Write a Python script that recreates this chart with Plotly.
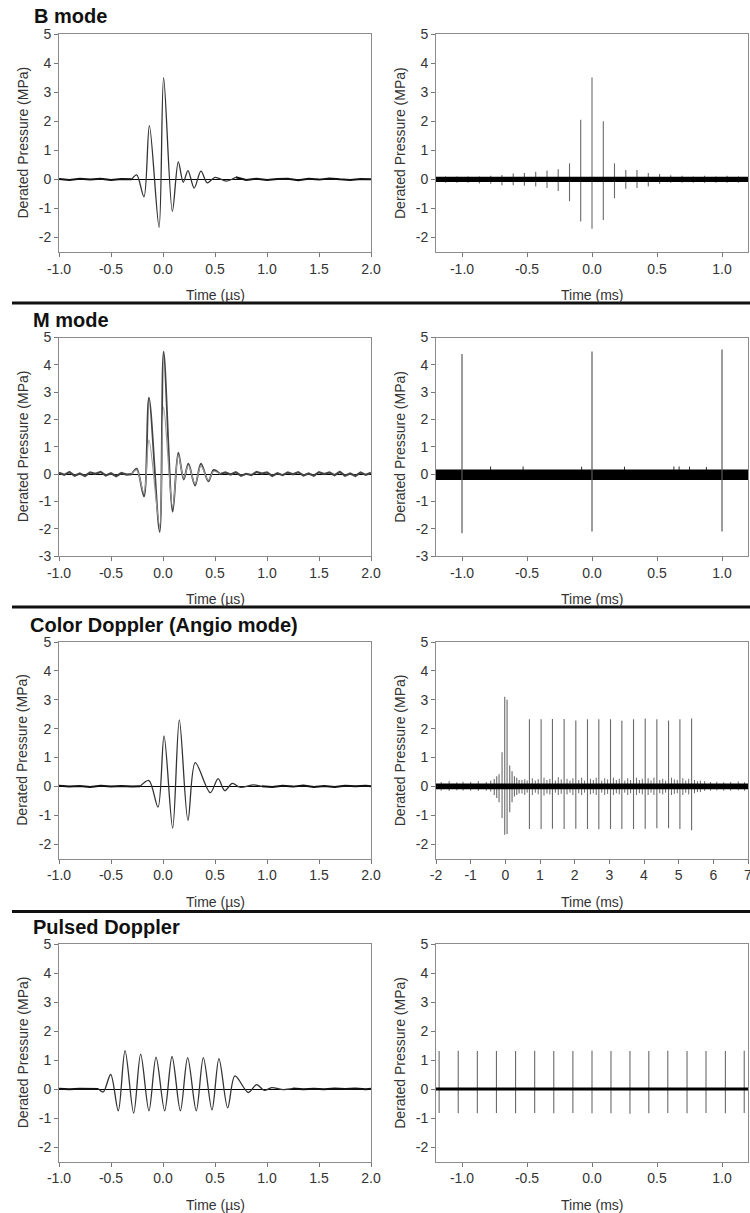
import plotly.graph_objects as go

W, H = 750, 1213
FONT = "Liberation Sans, Arial, sans-serif"

# ---------------- B mode ----------------
bm_pre_t = [-1.0, -0.9, -0.8, -0.7, -0.6, -0.5, -0.4, -0.3]
bm_pre_p = [0.01, -0.02, 0.02, -0.01, 0.02, -0.02, 0.01, 0.0]
bm_t = [-0.3, -0.253, -0.183, -0.131, -0.038, 0.006, 0.09, 0.147, 0.195, 0.24, 0.30, 0.365, 0.426, 0.5, 0.61, 0.7]
bm_p = [0.0, 0.15, -0.6, 1.85, -1.65, 3.5, -1.1, 0.6, -0.1, 0.3, -0.3, 0.28, -0.12, 0.07, -0.06, 0.07]
bm_post_t = [0.7, 0.8, 0.9, 1.0, 1.1, 1.2, 1.3, 1.4, 1.5, 1.6, 1.7, 1.8, 1.9, 2.0]
bm_post_p = [0.07, -0.02, 0.02, -0.02, 0.01, 0.02, -0.03, 0.02, -0.01, 0.03, 0.0, -0.02, 0.01, 0.0]

bmr_t = [-1.126, -1.039, -0.953, -0.866, -0.779, -0.693, -0.606, -0.52, -0.433, -0.346, -0.26, -0.173, -0.087,
         0.0, 0.087, 0.173, 0.26, 0.346, 0.433, 0.52, 0.606, 0.693, 0.779, 0.866, 0.953, 1.039, 1.126]
bmr_max = [0.1, 0.1, 0.1, 0.1, 0.12, 0.15, 0.2, 0.22, 0.26, 0.3, 0.35, 0.55, 2.05,
           3.5, 2.0, 0.55, 0.32, 0.32, 0.22, 0.18, 0.14, 0.12, 0.1, 0.12, 0.1, 0.12, 0.1]
bmr_min = [-0.12, -0.12, -0.12, -0.14, -0.15, -0.2, -0.2, -0.22, -0.25, -0.3, -0.4, -0.75, -1.45,
           -1.7, -1.4, -0.65, -0.32, -0.3, -0.25, -0.15, -0.12, -0.12, -0.12, -0.12, -0.12, -0.12, -0.12]
bmr_band = [-0.09, 0.09]

# ---------------- M mode ----------------
mm_pre_t = [-1.0, -0.95, -0.9, -0.85, -0.8, -0.75, -0.7, -0.65, -0.6, -0.55, -0.5, -0.45, -0.4, -0.35, -0.3]
mm_pre_p = [0.05, -0.03, 0.07, -0.06, 0.02, -0.07, 0.06, 0.01, 0.08, -0.05, 0.03, -0.08, 0.04, -0.02, 0.0]
mm_t = [-0.3, -0.253, -0.183, -0.135, -0.032, 0.006, 0.093, 0.147, 0.199, 0.244, 0.308, 0.365, 0.436, 0.487, 0.55]
mm_dark_p = [0.0, 0.2, -0.82, 2.8, -2.12, 4.48, -1.38, 0.78, -0.2, 0.38, -0.42, 0.38, -0.27, 0.15, 0.0]
mm_light_p = [0.0, 0.15, -0.7, 1.25, -1.9, 2.45, -1.22, 0.7, -0.15, 0.32, -0.35, 0.3, -0.22, 0.1, 0.0]
mm_post_t = [0.55, 0.6, 0.65, 0.7, 0.75, 0.8, 0.85, 0.9, 0.95, 1.0, 1.05, 1.1, 1.15, 1.2, 1.25, 1.3, 1.35,
             1.4, 1.45, 1.5, 1.55, 1.6, 1.65, 1.7, 1.75, 1.8, 1.85, 1.9, 1.95, 2.0]
mm_post_p = [0.0, 0.06, -0.02, 0.07, -0.06, 0.01, -0.04, 0.08, 0.02, 0.06, -0.07, 0.03, -0.04, 0.06,
             -0.01, 0.07, -0.05, 0.02, -0.06, 0.07, 0.0, 0.06, -0.04, 0.08, -0.06, 0.02, -0.07, 0.06, -0.03, 0.05]

mmr_t = [-1.0, 0.0, 1.0]
mmr_max = [4.4, 4.49, 4.56]
mmr_min = [-2.17, -2.1, -2.1]
mmr_small_t = [-0.78, -0.53, -0.08, 0.25, 0.63, 0.67, 0.75, 0.88]
mmr_small_max = [0.28, 0.28, 0.27, 0.27, 0.28, 0.28, 0.27, 0.26]
mmr_small_min = [-0.2, -0.2, -0.2, -0.2, -0.2, -0.2, -0.2, -0.2]
mmr_band = [-0.22, 0.17]

# ---------------- Color Doppler ----------------
cd_pre_t = [-1.0, -0.9, -0.8, -0.7, -0.6, -0.5, -0.4, -0.3, -0.22]
cd_pre_p = [0.02, -0.01, 0.01, -0.02, 0.02, -0.01, 0.01, -0.01, 0.0]
cd_t = [-0.22, -0.135, -0.048, 0.01, 0.093, 0.157, 0.24, 0.31, 0.455, 0.53, 0.593, 0.667, 0.74, 0.87, 0.95]
cd_p = [0.0, 0.2, -0.72, 1.75, -1.45, 2.3, -1.18, 0.82, -0.22, 0.27, -0.15, 0.1, -0.03, 0.05, 0.0]
cd_post_t = [0.95, 1.05, 1.15, 1.25, 1.35, 1.45, 1.55, 1.65, 1.75, 1.85, 1.95, 2.0]
cd_post_p = [0.0, -0.02, 0.02, -0.01, 0.03, -0.02, 0.01, -0.02, 0.02, 0.0, 0.02, 0.0]

cdr_big_t = [0.695, 1.032, 1.359, 1.696, 2.033, 2.37, 2.697, 3.034, 3.361, 3.698, 4.035, 4.371, 4.708, 5.036, 5.373]
cdr_big_max = [2.32, 2.32, 2.33, 2.33, 2.28, 2.32, 2.32, 2.32, 2.27, 2.32, 2.35, 2.32, 2.28, 2.32, 2.35]
cdr_big_min = [-1.48, -1.48, -1.47, -1.48, -1.47, -1.48, -1.49, -1.48, -1.48, -1.48, -1.47, -1.45, -1.45, -1.48, -1.52]
cdr_burst_t = [-0.32, -0.248, -0.181, -0.094, -0.017, 0.05, 0.127, 0.194, 0.262, 0.329, 0.397]
cdr_burst_max = [0.25, 0.35, 0.42, 1.18, 3.1, 3.0, 0.72, 0.52, 0.35, 0.3, 0.22]
cdr_burst_min = [-0.3, -0.4, -0.55, -1.1, -1.68, -1.65, -0.9, -0.55, -0.35, -0.3, -0.25]
cdr_small_t = [0.48, 0.56, 0.63, 0.779, 0.864, 0.948, 1.116, 1.2, 1.284, 1.443, 1.527, 1.612, 1.78, 1.865, 1.949,
               2.117, 2.201, 2.286, 2.454, 2.538, 2.622, 2.781, 2.866, 2.95, 3.118, 3.202, 3.287, 3.445, 3.53, 3.614,
               3.782, 3.866, 3.951, 4.119, 4.203, 4.287, 4.455, 4.54, 4.624, 4.792, 4.876, 4.961, 5.12, 5.204, 5.289,
               5.457, 5.541, 5.626]
cdr_small_max = [0.22, 0.25, 0.2, 0.28, 0.2, 0.25, 0.3, 0.22, 0.26, 0.2, 0.32, 0.24, 0.26, 0.2, 0.28,
                 0.22, 0.3, 0.2, 0.26, 0.22, 0.3, 0.2, 0.28, 0.24, 0.3, 0.22, 0.26, 0.2, 0.28, 0.22,
                 0.3, 0.22, 0.26, 0.28, 0.2, 0.3, 0.22, 0.26, 0.2, 0.3, 0.24, 0.22, 0.28, 0.2, 0.26,
                 0.22, 0.18, 0.2]
cdr_small_min = [-0.25, -0.3, -0.22, -0.3, -0.22, -0.28, -0.32, -0.25, -0.28, -0.22, -0.3, -0.26, -0.28, -0.22, -0.3,
                 -0.24, -0.3, -0.22, -0.28, -0.24, -0.3, -0.22, -0.3, -0.26, -0.3, -0.24, -0.28, -0.22, -0.3, -0.24,
                 -0.3, -0.24, -0.28, -0.3, -0.22, -0.3, -0.24, -0.28, -0.22, -0.3, -0.26, -0.24, -0.3, -0.22, -0.28,
                 -0.24, -0.2, -0.2]
cdr_bg_t = [-1.85, -1.62, -1.4, -1.22, -1.0, -0.78, -0.55, -0.42, 5.75, 5.92, 6.1, 6.3, 6.5, 6.72, 6.9]
cdr_bg_max = [0.15, 0.18, 0.14, 0.16, 0.15, 0.18, 0.15, 0.2, 0.18, 0.15, 0.16, 0.14, 0.15, 0.17, 0.14]
cdr_bg_min = [-0.15, -0.16, -0.14, -0.15, -0.15, -0.16, -0.15, -0.18, -0.16, -0.15, -0.14, -0.15, -0.15, -0.14, -0.15]
cdr_band = [-0.1, 0.1]

# ---------------- Pulsed Doppler ----------------
pd_pre_t = [-1.0, -0.9, -0.8, -0.7, -0.62]
pd_pre_p = [0.01, -0.01, 0.01, 0.0, 0.0]
pd_t = [-0.62, -0.574, -0.503, -0.43, -0.365, -0.282, -0.215, -0.135, -0.067, 0.016, 0.087, 0.167, 0.237,
        0.32, 0.388, 0.471, 0.538, 0.622, 0.692, 0.82, 0.9, 0.974, 1.045, 1.157, 1.25]
pd_p = [0.0, -0.1, 0.5, -0.75, 1.32, -0.83, 1.2, -0.75, 1.1, -0.75, 1.12, -0.75, 1.08,
        -0.75, 1.08, -0.72, 1.05, -0.65, 0.45, -0.12, 0.15, -0.05, 0.05, -0.02, 0.02]
pd_post_t = [1.25, 1.35, 1.45, 1.55, 1.65, 1.75, 1.85, 1.95, 2.0]
pd_post_p = [0.02, -0.01, 0.01, -0.01, 0.02, 0.0, 0.02, -0.01, 0.01]

pdr_t = [-1.176, -1.029, -0.882, -0.735, -0.588, -0.441, -0.294, -0.147, 0.0, 0.146, 0.292, 0.437, 0.583,
         0.731, 0.877, 1.026, 1.171]
pdr_max = [1.31, 1.32, 1.31, 1.31, 1.31, 1.32, 1.31, 1.31, 1.32, 1.31, 1.31, 1.31, 1.32, 1.31, 1.31, 1.31, 1.32]
pdr_min = [-0.83, -0.84, -0.84, -0.83, -0.84, -0.83, -0.84, -0.83, -0.84, -0.84, -0.85, -0.84, -0.83, -0.84, -0.83, -0.84, -0.83]
pdr_band = [-0.055, 0.055]

titles = ["B mode", "M mode", "Color Doppler (Angio mode)", "Pulsed Doppler"]
ylab = "Derated Pressure (MPa)"
xlab_left = "Time (\u00b5s)"
xlab_right = "Time (ms)"

# --------------- layout geometry (pixels) ---------------
rows_px = [(34, 252), (337.5, 556), (642, 858.5), (944, 1161.5)]
cols_px = [(59, 371), (436, 748)]
title_px = [(32, 16), (31, 319.5), (28, 624.5), (31, 926.5)]
sep_px = [303, 607, 911.5]


def px_x(v):
    return v / W


def px_y(v):
    return 1 - v / H


fig = go.Figure()


def spikes(t, lo, hi):
    xs, ys = [], []
    for a, b, c in zip(t, lo, hi):
        xs += [a, a, None]
        ys += [b, c, None]
    return xs, ys


def add_line(ax, x, y, color, width, spline=True):
    fig.add_trace(go.Scatter(x=x, y=y, mode="lines", xaxis="x" + ax, yaxis="y" + ax,
                             line=dict(color=color, width=width,
                                       shape="spline" if spline else "linear", smoothing=0.9),
                             showlegend=False, hoverinfo="skip"))


def add_spikes(ax, t, lo, hi, color="#6a6a6a", width=1.1):
    xs, ys = spikes(t, lo, hi)
    fig.add_trace(go.Scatter(x=xs, y=ys, mode="lines", xaxis="x" + ax, yaxis="y" + ax,
                             line=dict(color=color, width=width), showlegend=False,
                             hoverinfo="skip", connectgaps=False))


def add_band(ax, x0, x1, band):
    fig.add_trace(go.Scatter(x=[x0, x1], y=[band[1], band[1]], mode="lines", xaxis="x" + ax,
                             yaxis="y" + ax, line=dict(width=0, color="black"), showlegend=False,
                             hoverinfo="skip"))
    fig.add_trace(go.Scatter(x=[x0, x1], y=[band[0], band[0]], mode="lines", xaxis="x" + ax,
                             yaxis="y" + ax, line=dict(width=0, color="black"), fill="tonexty",
                             fillcolor="black", showlegend=False, hoverinfo="skip"))


# Row 1
add_line("", bm_pre_t, bm_pre_p, "#111", 2.0, False)
add_line("", bm_post_t, bm_post_p, "#111", 2.0, False)
add_line("", bm_t, bm_p, "#333", 1.3)
add_spikes("2", bmr_t, bmr_min, bmr_max)
add_band("2", -1.2, 1.2, bmr_band)

# Row 2
add_line("3", mm_pre_t, mm_pre_p, "#444", 2.2, False)
add_line("3", mm_post_t, mm_post_p, "#444", 2.2, False)
add_line("3", mm_t, mm_dark_p, "#444", 1.8)
add_line("3", mm_t, mm_light_p, "#9a9a9a", 1.2)
add_spikes("4", mmr_small_t, mmr_small_min, mmr_small_max, "#333", 1.0)
add_band("4", -1.2, 1.2, mmr_band)
add_spikes("4", mmr_t, mmr_min, mmr_max, "#5a5a5a", 1.2)

# Row 3
add_line("5", cd_pre_t, cd_pre_p, "#111", 2.0, False)
add_line("5", cd_post_t, cd_post_p, "#111", 2.0, False)
add_line("5", cd_t, cd_p, "#333", 1.3)
add_spikes("6", cdr_bg_t, cdr_bg_min, cdr_bg_max, "#6a6a6a", 1.0)
add_spikes("6", cdr_small_t, cdr_small_min, cdr_small_max, "#6a6a6a", 1.0)
add_spikes("6", cdr_burst_t, cdr_burst_min, cdr_burst_max, "#6a6a6a", 1.1)
add_spikes("6", cdr_big_t, cdr_big_min, cdr_big_max, "#6a6a6a", 1.1)
add_band("6", -2, 7, cdr_band)

# Row 4
add_line("7", pd_pre_t, pd_pre_p, "#111", 2.0, False)
add_line("7", pd_post_t, pd_post_p, "#111", 2.0, False)
add_line("7", pd_t, pd_p, "#333", 1.3)
add_spikes("8", pdr_t, pdr_min, pdr_max)
add_band("8", -1.2, 1.2, pdr_band)

axis_common = dict(showgrid=False, showline=True, mirror=True, linecolor="#8c8c8c", linewidth=1,
                   ticks="outside", ticklen=4, tickcolor="#777", tickwidth=1, automargin=False,
                   ticklabeloverflow="allow",
                   tickfont=dict(family=FONT, size=14, color="#333"), fixedrange=True)

left_ticks = [-1.0, -0.5, 0.0, 0.5, 1.0, 1.5, 2.0]
left_text = ["-1.0", "-0.5", "0.0", "0.5", "1.0", "1.5", "2.0"]
right_ticks = [-1.0, -0.5, 0.0, 0.5, 1.0]
right_text = ["-1.0", "-0.5", "0.0", "0.5", "1.0"]
cd_ticks = [-2, -1, 0, 1, 2, 3, 4, 5, 6, 7]
cd_text = ["-2", "-1", "0", "1", "2", "3", "4", "5", "6", "7"]

layout = dict(width=W, height=H, margin=dict(l=0, r=0, t=0, b=0, autoexpand=False),
              paper_bgcolor="white", plot_bgcolor="white", showlegend=False)

annotations = []
shapes = []
for r in range(4):
    top, bot = rows_px[r]
    ymin = -3 if r == 1 else -2.5
    yt = list(range(-3 if r == 1 else -2, 6))
    for c in range(2):
        idx = r * 2 + c + 1
        sfx = "" if idx == 1 else str(idx)
        x0, x1 = cols_px[c]
        if c == 0:
            xr, tv, tt = [-1, 2], left_ticks, left_text
        elif r == 2:
            xr, tv, tt = [-2, 7], cd_ticks, cd_text
        else:
            xr, tv, tt = [-1.2, 1.2], right_ticks, right_text
        layout["xaxis" + sfx] = dict(axis_common, domain=[px_x(x0), px_x(x1)], range=xr,
                                     tickvals=tv, ticktext=tt, zeroline=False,
                                     anchor="y" + sfx)
        layout["yaxis" + sfx] = dict(axis_common, domain=[px_y(bot), px_y(top)], range=[ymin, 5],
                                     tickvals=yt, ticktext=[str(v) for v in yt],
                                     zeroline=(c == 0), zerolinecolor="black", zerolinewidth=1,
                                     anchor="x" + sfx)
        # axis titles
        annotations.append(dict(text=ylab, x=px_x(22.5 if c == 0 else 400), y=px_y((top + bot) / 2),
                                xref="paper", yref="paper", showarrow=False, textangle=-90,
                                font=dict(family=FONT, size=14, color="#333"),
                                xanchor="center", yanchor="middle"))
        annotations.append(dict(text=xlab_left if c == 0 else xlab_right,
                                x=px_x((x0 + x1) / 2), y=px_y(bot + 43),
                                xref="paper", yref="paper", showarrow=False,
                                font=dict(family=FONT, size=14, color="#333"),
                                xanchor="center", yanchor="middle"))
    tx, ty = title_px[r]
    annotations.append(dict(text="<b>" + titles[r] + "</b>", x=px_x(tx), y=px_y(ty),
                            xref="paper", yref="paper", showarrow=False,
                            font=dict(family=FONT, size=20, color="#111"),
                            xanchor="left", yanchor="middle"))

for s in sep_px:
    shapes.append(dict(type="line", xref="paper", yref="paper", x0=px_x(12), x1=1,
                       y0=px_y(s), y1=px_y(s), line=dict(color="#111", width=3)))

layout["annotations"] = annotations
layout["shapes"] = shapes
fig.update_layout(**layout)
fig.write_html("out.html", config={"displayModeBar": False, "staticPlot": True},
               post_script="document.body.style.margin='0';document.body.style.padding='0';"
                           "document.documentElement.style.overflow='hidden';")
